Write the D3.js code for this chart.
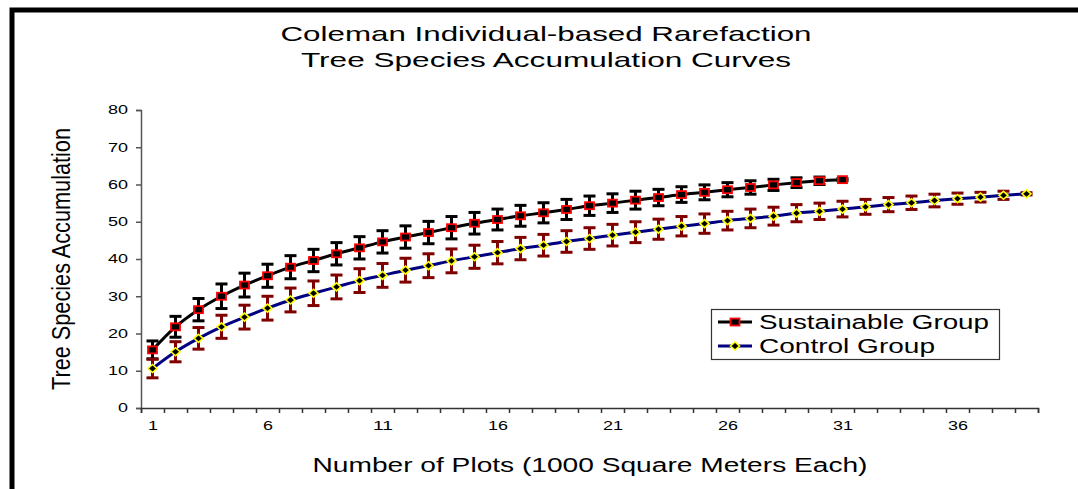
<!DOCTYPE html>
<html><head><meta charset="utf-8">
<script src="https://cdn.jsdelivr.net/npm/d3@7"></script>
<style>body{margin:0;background:#fff;} svg{display:block;font-family:"Liberation Sans",Arial,sans-serif;}</style>
</head><body>
<svg id="c" width="1078" height="489"></svg>
<script>
const plots = d3.range(1, 40);
const sustainable = [15.6,21.8,26.4,30.0,33.0,35.5,37.8,39.6,41.4,43.0,44.6,45.9,47.1,48.4,49.6,50.6,51.6,52.4,53.3,54.3,55.0,55.8,56.5,57.3,57.9,58.6,59.2,59.9,60.5,61.0,61.3];
const sustainableErr = [2.4,2.8,3.0,3.3,3.2,3.1,3.1,3.0,3.0,3.0,3.0,3.0,3.0,3.0,2.9,2.8,2.8,2.7,2.7,2.6,2.5,2.4,2.2,2.1,2.0,1.9,1.8,1.5,1.3,1.0,0.3];
const control = [10.6,15.1,18.7,21.8,24.4,26.8,29.0,30.8,32.5,34.2,35.6,37.0,38.2,39.5,40.6,41.7,42.8,43.7,44.7,45.5,46.4,47.2,48.0,48.8,49.5,50.3,50.9,51.5,52.3,52.8,53.4,54.0,54.6,55.1,55.7,56.2,56.6,57.1,57.5];
const controlErr = [2.5,2.7,2.9,3.1,3.2,3.2,3.2,3.3,3.2,3.2,3.2,3.2,3.2,3.2,3.1,3.0,3.0,2.9,2.9,2.9,2.9,2.8,2.7,2.6,2.6,2.5,2.5,2.4,2.3,2.2,2.1,2.0,1.9,1.8,1.7,1.5,1.3,1.1,0.3];
const yTicks = [0,10,20,30,40,50,60,70,80];
const xLabelTicks = [1,6,11,16,21,26,31,36];
const seriesNames = ["Sustainable Group","Control Group"];
const titleLines = ["Coleman Individual-based Rarefaction","Tree Species Accumulation Curves"];

const svg = d3.select("#c");
// frame
svg.append("path").attr("d","M12,600 L12,10 L1200,10").attr("fill","none").attr("stroke","#000").attr("stroke-width",5);

const x = d3.scaleLinear().domain([0.5, 39.5]).range([141, 1038]);
const y = d3.scaleLinear().domain([0, 80]).range([408, 110]);

function stretch(sel, len){ sel.attr("textLength",len).attr("lengthAdjust","spacingAndGlyphs"); return sel; }

// titles
stretch(svg.append("text").attr("x",546).attr("y",41).attr("text-anchor","middle").attr("font-size",21).attr("fill","#000").text(titleLines[0]), 531);
stretch(svg.append("text").attr("x",546).attr("y",67).attr("text-anchor","middle").attr("font-size",21).attr("fill","#000").text(titleLines[1]), 490);

// y axis
const ya = svg.append("g").attr("transform","translate(141,0)")
  .call(d3.axisLeft(y).tickValues(yTicks).tickSize(5).tickPadding(8));
ya.select(".domain").attr("stroke","#555").attr("stroke-width",1.5);
ya.selectAll(".tick line").attr("stroke","#555").attr("stroke-width",1.5);
ya.selectAll("text").attr("font-size",12).attr("fill","#000").attr("font-family","Liberation Sans, Arial, sans-serif")
  .each(function(d){ stretch(d3.select(this), String(d).length*10); });

// x axis (ticks between categories)
const xa = svg.append("g").attr("transform","translate(0,408)")
  .call(d3.axisBottom(x).tickValues(d3.range(0.5, 40, 1)).tickSize(5).tickFormat(""));
xa.select(".domain").attr("stroke","#333").attr("stroke-width",1.5);
xa.selectAll(".tick line").attr("stroke","#333").attr("stroke-width",1.5);
const xl = svg.append("g").attr("transform","translate(0,408)")
  .call(d3.axisBottom(x).tickValues(xLabelTicks).tickSize(0).tickPadding(13).tickFormat(d3.format("d")));
xl.select(".domain").remove();
xl.selectAll("text").attr("font-size",12).attr("fill","#000").attr("font-family","Liberation Sans, Arial, sans-serif")
  .each(function(d){ stretch(d3.select(this), String(d).length*10); });

// axis titles
stretch(svg.append("text").attr("transform","translate(70,259) rotate(-90)").attr("text-anchor","middle")
  .attr("font-size",26).attr("fill","#000").text("Tree Species Accumulation"), 262);
stretch(svg.append("text").attr("x",590).attr("y",472).attr("text-anchor","middle").attr("font-size",20).attr("fill","#000").text("Number of Plots (1000 Square Meters Each)"), 555);

const line = d3.line().x((d,i)=>x(i+1)).y(d=>y(d)).curve(d3.curveCatmullRom.alpha(0.5));

function errorBars(vals, errs, color){
  const g = svg.append("g");
  vals.forEach((v,i)=>{
    const cx = x(i+1), t = y(v+errs[i]), b = y(v-errs[i]);
    g.append("line").attr("x1",cx).attr("x2",cx).attr("y1",t).attr("y2",b).attr("stroke",color).attr("stroke-width",3);
    g.append("line").attr("x1",cx-6).attr("x2",cx+6).attr("y1",t).attr("y2",t).attr("stroke",color).attr("stroke-width",3);
    g.append("line").attr("x1",cx-6).attr("x2",cx+6).attr("y1",b).attr("y2",b).attr("stroke",color).attr("stroke-width",3);
  });
}
errorBars(sustainable, sustainableErr, "#000");
errorBars(control, controlErr, "#800000");

svg.append("path").datum(sustainable).attr("d",line).attr("fill","none").attr("stroke","#000").attr("stroke-width",3);
svg.append("path").datum(control).attr("d",line).attr("fill","none").attr("stroke","#000080").attr("stroke-width",3);

function squareMarker(g, cx, cy){
  g.append("rect").attr("x",cx-4.5).attr("y",cy-3.5).attr("width",9).attr("height",7).attr("fill","#000").attr("stroke","#f00").attr("stroke-width",1.8);
}
function diamondMarker(g, cx, cy){
  g.append("path").attr("d",`M${cx},${cy-4} L${cx+4.5},${cy} L${cx},${cy+4} L${cx-4.5},${cy} Z`).attr("fill","#000").attr("stroke","#ff0").attr("stroke-width",1.6);
}
const ms = svg.append("g");
sustainable.forEach((v,i)=>squareMarker(ms, x(i+1), y(v)));
const md = svg.append("g");
control.forEach((v,i)=>diamondMarker(md, x(i+1), y(v)));

// legend
const lg = svg.append("g");
lg.append("rect").attr("x",711.5).attr("y",309.5).attr("width",288).attr("height",50).attr("fill","#fff").attr("stroke","#333").attr("stroke-width",1.2);
lg.append("line").attr("x1",718).attr("x2",752).attr("y1",322).attr("y2",322).attr("stroke","#000").attr("stroke-width",3);
squareMarker(lg, 735, 322);
lg.append("line").attr("x1",718).attr("x2",752).attr("y1",346).attr("y2",346).attr("stroke","#000080").attr("stroke-width",3);
diamondMarker(lg, 735, 346);
stretch(lg.append("text").attr("x",759).attr("y",329).attr("font-size",20).attr("fill","#000").text(seriesNames[0]), 230);
stretch(lg.append("text").attr("x",759).attr("y",353).attr("font-size",20).attr("fill","#000").text(seriesNames[1]), 176);
</script>
</body></html>
